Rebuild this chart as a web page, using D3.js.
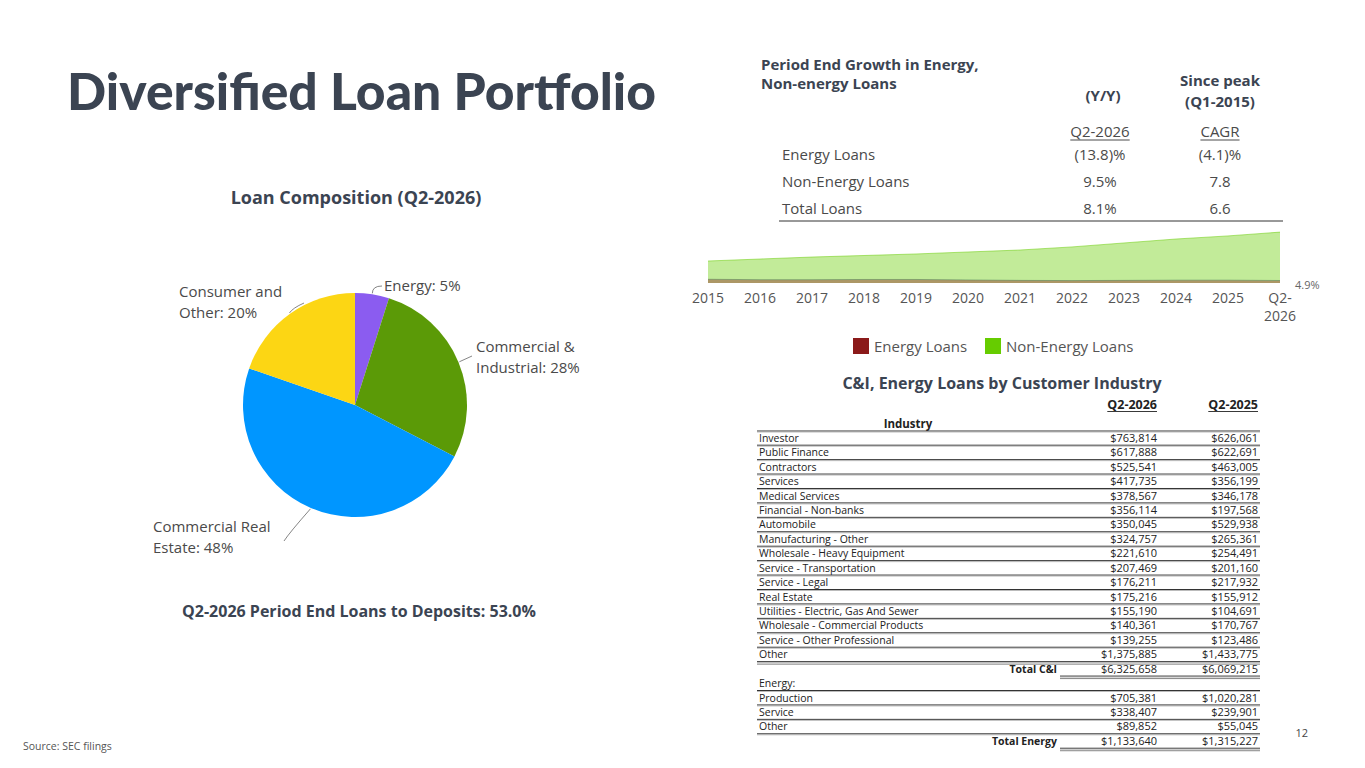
<!DOCTYPE html>
<html><head><meta charset="utf-8">
<script src="https://cdn.jsdelivr.net/npm/d3@7"></script>
<style>body{margin:0;background:#fff}svg{display:block;font-family:"Open Sans","Noto Sans",sans-serif}</style>
</head><body>
<script>
// ---- data ----
const pieCategories = ["Energy", "Commercial & Industrial", "Commercial Real Estate", "Consumer and Other"];
const pieValues = [4.9, 27.7, 47.7, 19.7];
const pieLabels = [["Energy: 5%"], ["Commercial &", "Industrial: 28%"], ["Commercial Real", "Estate: 48%"], ["Consumer and", "Other: 20%"]];
const pieColors = ["#8b5cf0", "#5b9a07", "#0096ff", "#fcd614"];

const growthRows = ["Energy Loans", "Non-Energy Loans", "Total Loans"];
const growthYoY = ["(13.8)%", "9.5%", "8.1%"];
const growthCAGR = ["(4.1)%", "7.8", "6.6"];

const areaPeriods = ["2015","2016","2017","2018","2019","2020","2021","2022","2023","2024","2025","Q2-2026"];
const energyLoans = [1.7, 1.5, 1.5, 1.6, 1.6, 1.4, 1.2, 1.1, 1.2, 1.3, 1.3, 1.13];
const nonEnergyLoans = [8.3, 9.4, 10.3, 10.9, 11.6, 12.7, 13.8, 15.3, 17.0, 18.7, 20.1, 22.0];

const industries = ["Investor","Public Finance","Contractors","Services","Medical Services","Financial - Non-banks","Automobile","Manufacturing - Other","Wholesale - Heavy Equipment","Service - Transportation","Service - Legal","Real Estate","Utilities - Electric, Gas And Sewer","Wholesale - Commercial Products","Service - Other Professional","Other"];
const ci2026 = ["$763,814","$617,888","$525,541","$417,735","$378,567","$356,114","$350,045","$324,757","$221,610","$207,469","$176,211","$175,216","$155,190","$140,361","$139,255","$1,375,885"];
const ci2025 = ["$626,061","$622,691","$463,005","$356,199","$346,178","$197,568","$529,938","$265,361","$254,491","$201,160","$217,932","$155,912","$104,691","$170,767","$123,486","$1,433,775"];
const totalCI = ["$6,325,658","$6,069,215"];
const energyTypes = ["Production","Service","Other"];
const en2026 = ["$705,381","$338,407","$89,852"];
const en2025 = ["$1,020,281","$239,901","$55,045"];
const totalEnergy = ["$1,133,640","$1,315,227"];

// ---- drawing ----
const W = 1365, H = 768;
const svg = d3.select("body").append("svg").attr("width", W).attr("height", H);
const dark = "#3b4452", txt = "#4a4a4a";

svg.append("text").attr("x", 67).attr("y", 110).attr("font-size", 51).attr("font-weight", 900)
  .attr("font-family", "Lato, sans-serif")
  .attr("fill", dark).attr("textLength", 589).attr("lengthAdjust", "spacingAndGlyphs").text("Diversified Loan Portfolio");

// Pie
svg.append("text").attr("x", 356).attr("y", 204).attr("text-anchor", "middle").attr("font-size", 18)
  .attr("font-weight", 700).attr("fill", dark).text("Loan Composition (Q2-2026)");

const cx = 355, cy = 405, R = 112;
const pie = d3.pie().sort(null).value(d => d)(pieValues);
const arc = d3.arc().innerRadius(0).outerRadius(R);
const gp = svg.append("g").attr("transform", `translate(${cx},${cy})`);
gp.selectAll("path").data(pie).join("path").attr("d", arc).attr("fill", (d, i) => pieColors[i]);

const labelPos = [
  {x: 384, y: 291, end: [382, 286]},
  {x: 476, y: 352, end: [472, 356]},
  {x: 153, y: 532, end: [284, 541]},
  {x: 179, y: 297, end: [304, 303]}
];
pie.forEach((d, i) => {
  const a = (d.startAngle + d.endAngle) / 2;
  const sx = cx + (R + 1) * Math.sin(a), sy = cy - (R + 1) * Math.cos(a);
  const [ex, ey] = labelPos[i].end;
  const mx = (sx + ex) / 2 + (i === 2 ? -8 : 0), my = (sy + ey) / 2 + (i === 2 ? 8 : 0);
  const path = i === 0 ? `M${sx},${sy}Q${sx},${ey} ${ex},${ey}` : `M${sx},${sy}Q${mx + (i===3?-4:0)},${my} ${ex},${ey}`;
  svg.append("path").attr("d", path).attr("fill", "none").attr("stroke", "#666").attr("stroke-width", 0.8);
  const t = svg.append("text").attr("x", labelPos[i].x).attr("y", labelPos[i].y).attr("font-size", 15).attr("fill", txt);
  pieLabels[i].forEach((l, j) => t.append("tspan").attr("x", labelPos[i].x).attr("dy", j ? 21 : 0).text(l));
});

svg.append("text").attr("x", 359).attr("y", 617).attr("text-anchor", "middle").attr("font-size", 16)
  .attr("font-weight", 700).attr("fill", dark).text("Q2-2026 Period End Loans to Deposits: 53.0%");

svg.append("text").attr("x", 23).attr("y", 750).attr("font-size", 10.5).attr("fill", "#555").text("Source: SEC filings");
svg.append("text").attr("x", 1308).attr("y", 737).attr("text-anchor", "end").attr("font-size", 11).attr("fill", "#444").text("12");

// Growth table
const gt = svg.append("g").attr("fill", dark).attr("font-weight", 700).attr("font-size", 15);
gt.append("text").attr("x", 761).attr("y", 70).text("Period End Growth in Energy,");
gt.append("text").attr("x", 761).attr("y", 89).text("Non-energy Loans");
gt.append("text").attr("x", 1103).attr("y", 101).attr("text-anchor", "middle").text("(Y/Y)");
gt.append("text").attr("x", 1220).attr("y", 86).attr("text-anchor", "middle").text("Since peak");
gt.append("text").attr("x", 1220).attr("y", 107).attr("text-anchor", "middle").text("(Q1-2015)");
const colX = [1100, 1220];
[["Q2-2026", 1100], ["CAGR", 1220]].forEach(([s, x]) => {
  const t = svg.append("text").attr("x", x).attr("y", 137).attr("text-anchor", "middle").attr("font-size", 15).attr("fill", txt).text(s);
  const w = t.node().getComputedTextLength();
  svg.append("line").attr("x1", x - w / 2).attr("x2", x + w / 2).attr("y1", 140).attr("y2", 140).attr("stroke", txt).attr("stroke-width", 1);
});
growthRows.forEach((r, i) => {
  const y = 160 + i * 27;
  svg.append("text").attr("x", 782).attr("y", y).attr("font-size", 15).attr("fill", txt).text(r);
  svg.append("text").attr("x", colX[0]).attr("y", y).attr("text-anchor", "middle").attr("font-size", 15).attr("fill", txt).text(growthYoY[i]);
  svg.append("text").attr("x", colX[1]).attr("y", y).attr("text-anchor", "middle").attr("font-size", 15).attr("fill", txt).text(growthCAGR[i]);
});
svg.append("line").attr("x1", 779).attr("x2", 1283).attr("y1", 221).attr("y2", 221).attr("stroke", "#333").attr("stroke-width", 1);

// Area chart
const xA = d3.scalePoint().domain(areaPeriods).range([708, 1280]);
const yA = d3.scaleLinear().domain([0, 25]).range([283, 228]);
const totals = areaPeriods.map((p, i) => ({p, e: energyLoans[i], t: energyLoans[i] + nonEnergyLoans[i]}));
svg.append("path").datum(totals)
  .attr("d", d3.area().x(d => xA(d.p)).y0(yA(0)).y1(d => yA(d.t)))
  .attr("fill", "#66cc00").attr("fill-opacity", 0.4);
svg.append("path").datum(totals)
  .attr("d", d3.line().x(d => xA(d.p)).y(d => yA(d.t)))
  .attr("fill", "none").attr("stroke", "#66cc00").attr("stroke-opacity", 0.5).attr("stroke-width", 1);
svg.append("path").datum(totals)
  .attr("d", d3.area().x(d => xA(d.p)).y0(yA(0)).y1(d => yA(d.e)))
  .attr("fill", "#8b1a1a").attr("fill-opacity", 0.4);
svg.append("path").datum(totals)
  .attr("d", d3.line().x(d => xA(d.p)).y(d => yA(d.e)))
  .attr("fill", "none").attr("stroke", "#4a7a5a").attr("stroke-opacity", 0.6).attr("stroke-width", 0.8);

const xAxis = svg.append("g").attr("transform", "translate(0,283)")
  .call(d3.axisBottom(xA).tickSize(0).tickPadding(0).tickFormat(() => ""));
xAxis.select(".domain").remove();
areaPeriods.forEach(p => {
  const parts = p.startsWith("Q") ? [p.slice(0, 3), p.slice(3)] : [p];
  const t = svg.append("text").attr("x", xA(p)).attr("y", 303).attr("text-anchor", "middle")
    .attr("font-size", 14).attr("fill", "#555");
  parts.forEach((s, j) => t.append("tspan").attr("x", xA(p) + (parts.length > 1 ? (j ? 0 : 0) : 0)).attr("dy", j ? 18 : 0).text(s));
});
svg.append("text").attr("x", 1295).attr("y", 289).attr("font-size", 11).attr("fill", "#666").text("4.9%");

// Legend
[["Energy Loans", "#8b1a1a", 853], ["Non-Energy Loans", "#66cc00", 985]].forEach(([s, c, x]) => {
  svg.append("rect").attr("x", x).attr("y", 338).attr("width", 16).attr("height", 16).attr("fill", c);
  svg.append("text").attr("x", x + 21).attr("y", 352).attr("font-size", 15).attr("fill", "#555").text(s);
});

// Industry table
svg.append("text").attr("x", 1002).attr("y", 389).attr("text-anchor", "middle").attr("font-size", 16)
  .attr("font-weight", 700).attr("fill", dark).text("C&I, Energy Loans by Customer Industry");
const tx0 = 757, tx1 = 1260, c1 = 1157, c2 = 1258, fs = 10.5, rowH = 14.43, row0 = 438;
const tb = svg.append("g").attr("font-size", fs).attr("fill", "#222");
[["Q2-2026", c1], ["Q2-2025", c2]].forEach(([s, x]) => {
  const t = tb.append("text").attr("x", x).attr("y", 409).attr("text-anchor", "end").attr("font-weight", 700).attr("font-size", 12.5).text(s);
  const w = t.node().getComputedTextLength();
  tb.append("line").attr("x1", x - w).attr("x2", x).attr("y1", 411.5).attr("y2", 411.5).attr("stroke", "#222").attr("stroke-width", 0.9);
});
tb.append("text").attr("x", 908).attr("y", 428).attr("text-anchor", "middle").attr("font-weight", 700).attr("font-size", 11.5).text("Industry");
function hline(y, x0, x1, dbl) {
  tb.append("line").attr("x1", x0).attr("x2", x1).attr("y1", y).attr("y2", y).attr("stroke", "#333").attr("stroke-width", 1);
  tb.append("line").attr("x1", x0).attr("x2", x1).attr("y1", y + 1).attr("y2", y + 1).attr("stroke", "#aaa").attr("stroke-width", 0.8);
  if (dbl) tb.append("line").attr("x1", x0).attr("x2", x1).attr("y1", y + 2.5).attr("y2", y + 2.5).attr("stroke", "#777").attr("stroke-width", 0.9);
}
hline(431, tx0, tx1);
function row(i, label, a, b, bold, right) {
  const yc = row0 + i * rowH, y = yc + 3.8;
  if (label != null) tb.append("text").attr("x", right ? 1057 : 759).attr("y", y).attr("text-anchor", right ? "end" : "start")
    .attr("font-weight", bold ? 700 : 400).text(label);
  if (a) tb.append("text").attr("x", c1).attr("y", y).attr("text-anchor", "end").attr("font-size", 11).text(a);
  if (b) tb.append("text").attr("x", c2).attr("y", y).attr("text-anchor", "end").attr("font-size", 11).text(b);
  return yc;
}
industries.forEach((s, i) => {
  const yc = row(i, s, ci2026[i], ci2025[i]);
  hline(yc + 7.2, tx0, tx1, i === industries.length - 1);
});
let yc = row(industries.length, "Total C&I", totalCI[0], totalCI[1], true, true);
hline(yc + 7.2, 1060, tx1, true);
yc = row(industries.length + 1, "Energy:");
hline(yc + 7.2, tx0, tx1);
energyTypes.forEach((s, i) => {
  const y2 = row(industries.length + 2 + i, s, en2026[i], en2025[i]);
  hline(y2 + 7.2, tx0, tx1);
});
yc = row(industries.length + 5, "Total Energy", totalEnergy[0], totalEnergy[1], true, true);
hline(yc + 7.2, 1060, tx1, true);
</script>
</body></html>
